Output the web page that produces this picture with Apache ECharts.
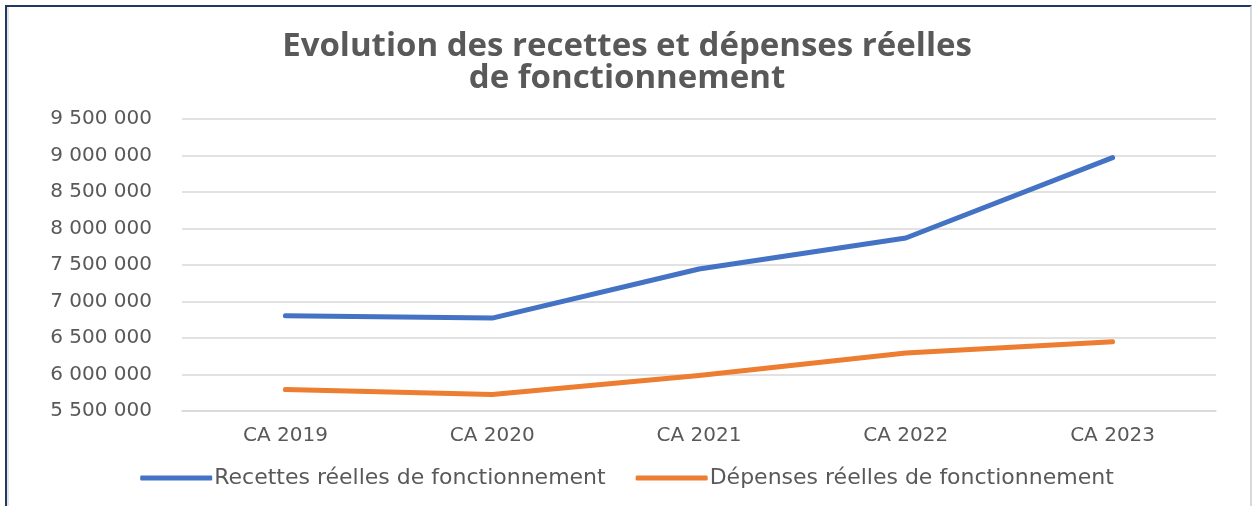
<!DOCTYPE html>
<html lang="fr">
<head>
    <meta charset="UTF-8">
    <title>Evolution des recettes et dépenses réelles de fonctionnement</title>
    <script src="https://cdn.jsdelivr.net/npm/echarts@6/dist/echarts.min.js"></script>
    <style>
        body { margin: 0; background: #fff; }
        #wrap { position: relative; width: 1254px; height: 506px; overflow: hidden; }
        #main { width: 1254px; height: 506px; }
        #frame {
            position: absolute; left: 5px; top: 5px; width: 1243px; height: 520px;
            border-top: 2px solid #1f3864; border-left: 2px solid #1f3864; border-right: 2px solid #d9d9d9;
            box-shadow: inset 2px 0 0 #e4e4e4;
            pointer-events: none;
        }
    </style>
</head>
<body>
<div id="wrap">
    <div id="main"></div>
    <div id="frame"></div>
</div>
<script type="text/javascript">
    // données
    var categories = ['CA 2019', 'CA 2020', 'CA 2021', 'CA 2022', 'CA 2023'];
    var recettes = [6805000, 6773000, 7445000, 7870000, 8970000];
    var depenses = [5795000, 5727000, 5986000, 6295000, 6450000];
    var yTicks = {min: 5500000, max: 9500000, interval: 500000};

    var grey = '#595959';

    function fmt(v) {
        return String(v).replace(/\B(?=(\d{3})+(?!\d))/g, ' ');
    }

    var myChart = echarts.init(document.getElementById('main'));
    var option = {
        animation: false,
        title: {
            text: 'Evolution des recettes et dépenses réelles\nde fonctionnement',
            left: 'center',
            top: 26,
            textStyle: {
                fontFamily: 'Open Sans',
                fontWeight: 'bold',
                fontSize: 33,
                lineHeight: 32,
                color: grey
            }
        },
        legend: {
            bottom: 12,
            left: 'center',
            itemWidth: 72,
            itemHeight: 5,
            itemGap: 30,
            icon: 'roundRect',
            textStyle: {fontFamily: 'DejaVu Sans', fontSize: 22, color: grey, padding: [0, 0, 0, -3]},
            data: ['Recettes réelles de fonctionnement', 'Dépenses réelles de fonctionnement']
        },
        grid: {left: 182, right: 38, top: 119, bottom: 95},
        xAxis: {
            type: 'category',
            data: categories,
            boundaryGap: true,
            axisLine: {show: true, lineStyle: {color: '#d9d9d9', width: 1.5}},
            axisTick: {show: false},
            axisLabel: {fontFamily: 'DejaVu Sans', fontSize: 20, color: grey, margin: 15}
        },
        yAxis: {
            type: 'value',
            min: yTicks.min,
            max: yTicks.max,
            interval: yTicks.interval,
            axisLine: {show: false},
            axisTick: {show: false},
            splitLine: {lineStyle: {color: '#d9d9d9', width: 1.5}},
            axisLabel: {
                fontFamily: 'DejaVu Sans', fontSize: 20, color: grey, margin: 30,
                formatter: fmt
            }
        },
        series: [
            {
                name: 'Recettes réelles de fonctionnement',
                type: 'line',
                data: recettes,
                showSymbol: false,
                lineStyle: {color: '#4472c4', width: 5, cap: 'round', join: 'round'},
                itemStyle: {color: '#4472c4'}
            },
            {
                name: 'Dépenses réelles de fonctionnement',
                type: 'line',
                data: depenses,
                showSymbol: false,
                lineStyle: {color: '#ed7d31', width: 5, cap: 'round', join: 'round'},
                itemStyle: {color: '#ed7d31'}
            }
        ]
    };
    myChart.setOption(option);
</script>
</body>
</html>
